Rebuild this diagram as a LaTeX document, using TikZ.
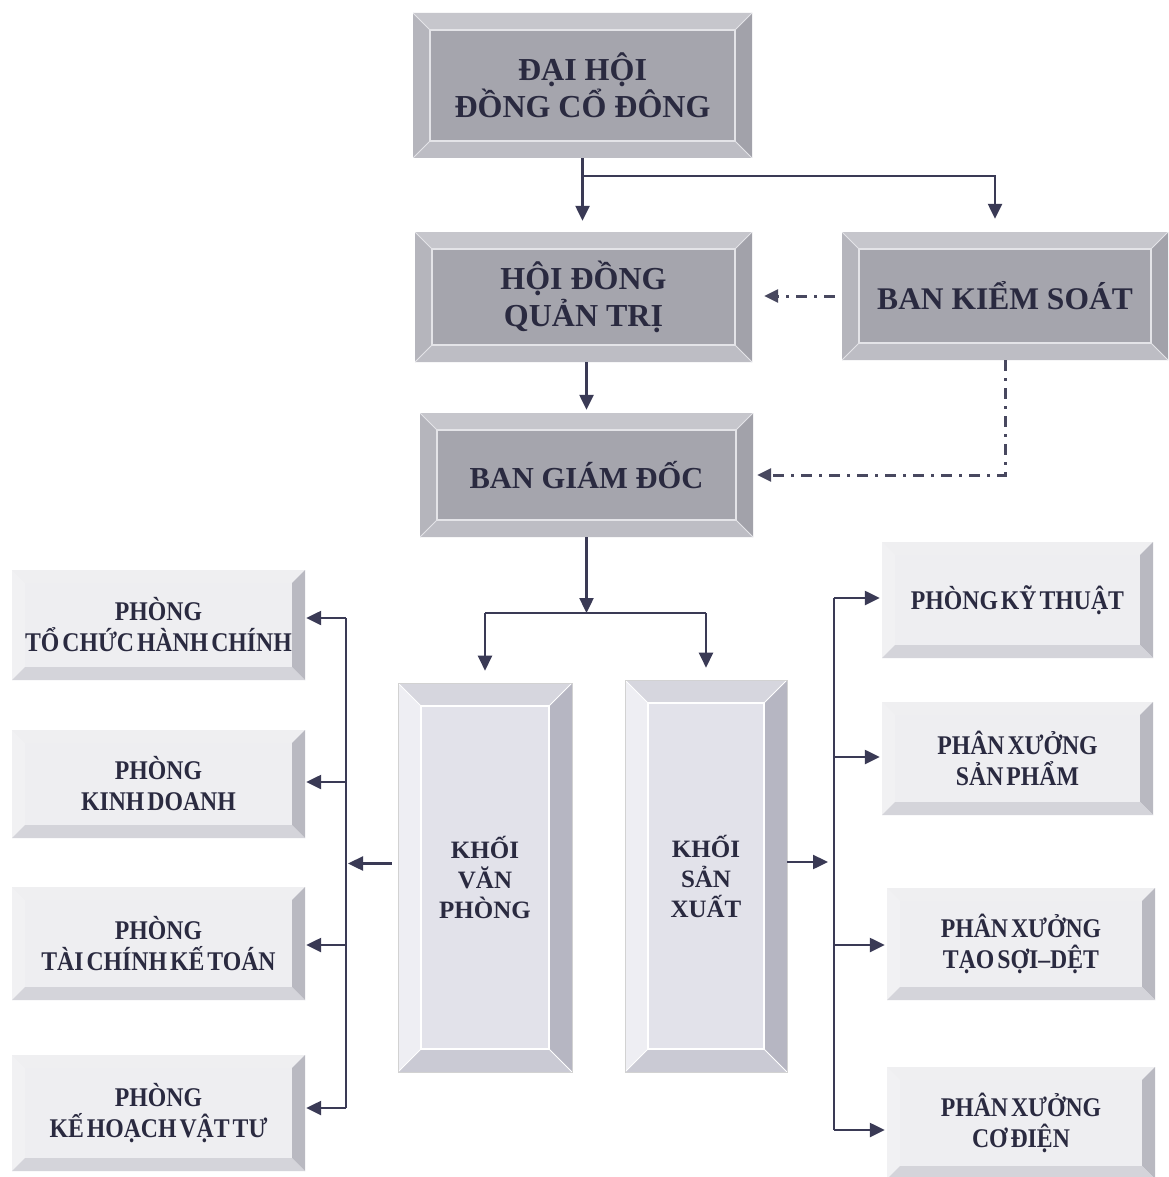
\documentclass[tikz,border=0pt]{standalone}
\usepackage{fontspec}
\setmainfont{Liberation Serif}
\newfontfamily\sidefont[FakeStretch=0.88,WordSpace=0.5]{Liberation Serif}
\usetikzlibrary{arrows.meta}
\definecolor{txtc}{HTML}{2A2A40}
\definecolor{linec}{HTML}{3A3A55}
\definecolor{dashc}{HTML}{48485F}
\definecolor{tFace}{HTML}{A5A5AD}
\definecolor{tTop}{HTML}{C6C6CC}
\definecolor{tLeft}{HTML}{B5B5BC}
\definecolor{tRight}{HTML}{A2A2AA}
\definecolor{tBot}{HTML}{BDBDC4}
\definecolor{tLine}{HTML}{E4E4E8}
\definecolor{bFace}{HTML}{E2E2EA}
\definecolor{bTop}{HTML}{D6D6DE}
\definecolor{bLeft}{HTML}{EEEEF3}
\definecolor{bRight}{HTML}{B6B6C2}
\definecolor{bBot}{HTML}{CACAD4}
\definecolor{sFace}{HTML}{EEEEF1}
\definecolor{sTop}{HTML}{EFEFF1}
\definecolor{sLeft}{HTML}{F1F1F3}
\definecolor{sRight}{HTML}{B9B9C1}
\definecolor{sBot}{HTML}{D4D4DA}
\tikzset{
  bevel/.style n args={7}{fill=#2, path picture={
    \path (path picture bounding box.north west) coordinate (bvnw)
          (path picture bounding box.north east) coordinate (bvne)
          (path picture bounding box.south west) coordinate (bvsw)
          (path picture bounding box.south east) coordinate (bvse);
    \path ([xshift=#1,yshift=-#1]bvnw) coordinate (bvinw)
          ([xshift=-#1,yshift=-#1]bvne) coordinate (bvine)
          ([xshift=#1,yshift=#1]bvsw) coordinate (bvisw)
          ([xshift=-#1,yshift=#1]bvse) coordinate (bvise);
    \fill[#3] (bvnw) -- (bvne) -- (bvine) -- (bvinw) -- cycle;
    \fill[#4] (bvnw) -- (bvinw) -- (bvisw) -- (bvsw) -- cycle;
    \fill[#5] (bvne) -- (bvse) -- (bvise) -- (bvine) -- cycle;
    \fill[#6] (bvsw) -- (bvisw) -- (bvise) -- (bvse) -- cycle;
    \path[draw=#7, line width=1.3pt] (bvinw) rectangle (bvise);
    \path[draw=#7, line width=0.8pt] (bvnw) -- (bvinw) (bvne) -- (bvine) (bvsw) -- (bvisw) (bvse) -- (bvise);
  }},
  topbox/.style={bevel={17pt}{tFace}{tTop}{tLeft}{tRight}{tBot}{tLine}, text=txtc, align=center,
    font=\bfseries\fontsize{32}{37}\selectfont, inner sep=0pt},
  blockbox/.style={bevel={23pt}{bFace}{bTop}{bLeft}{bRight}{bBot}{white}, draw=gray!35, line width=0.6pt,
    text=txtc, align=center, font=\bfseries\fontsize{25}{30}\selectfont, inner sep=0pt},
  sidebox/.style={bevel={13pt}{sFace}{sTop}{sLeft}{sRight}{sBot}{none}, text=txtc, align=center,
    font=\sidefont\bfseries\fontsize{27}{31}\selectfont, inner sep=0pt,
    minimum width=271pt, minimum height=112pt},
  conn/.style={draw=linec, line width=2.4pt, -{Triangle[length=15pt,width=14pt]}},
  busline/.style={draw=linec, line width=2.4pt},
  dashdot/.style={draw=dashc, line width=3pt, dash pattern=on 11pt off 7pt on 3pt off 7pt,
    -{Triangle[length=14pt,width=13pt]}},
}
\begin{document}
\begin{tikzpicture}[x=1pt,y=-1pt]
\fill[white] (0,0) rectangle (1168,1177);
\useasboundingbox (0,0) rectangle (1168,1177);

% top hierarchy
\node[topbox, minimum width=339pt, minimum height=145pt] (n1) at (582.5,85.5) {ĐẠI HỘI\\ĐỒNG CỔ ĐÔNG};
\node[topbox, minimum width=337pt, minimum height=130pt] (n2) at (583.5,297) {HỘI ĐỒNG\\QUẢN TRỊ};
\node[topbox, minimum width=326pt, minimum height=128pt, font=\bfseries\fontsize{31.5}{37}\selectfont] (n3) at (1005,296) {BAN KIỂM SOÁT};
\node[topbox, minimum width=333pt, minimum height=124pt, font=\bfseries\fontsize{30.5}{37}\selectfont] (n4) at (586.5,475) {BAN GIÁM ĐỐC};

% blocks
\node[blockbox, minimum width=174pt, minimum height=389pt] (n5) at (485,877.5) {KHỐI\\VĂN\\PHÒNG};
\node[blockbox, minimum width=162pt, minimum height=392pt] (n6) at (706,876) {KHỐI\\SẢN\\XUẤT};

% left departments
\node[sidebox, minimum width=293pt, minimum height=110pt] (L1) at (158.5,625) {PHÒNG\\TỔ CHỨC HÀNH CHÍNH};
\node[sidebox, minimum width=293pt, minimum height=108pt] (L2) at (158.5,784) {PHÒNG\\KINH DOANH};
\node[sidebox, minimum width=293pt, minimum height=113pt] (L3) at (158.5,943.5) {PHÒNG\\TÀI CHÍNH KẾ TOÁN};
\node[sidebox, minimum width=293pt, minimum height=116pt] (L4) at (158.5,1113) {PHÒNG\\KẾ HOẠCH VẬT TƯ};

% right departments
\node[sidebox, minimum height=116pt] (R1) at (1017.5,600) {PHÒNG KỸ THUẬT};
\node[sidebox, minimum height=113pt] (R2) at (1017.5,758.5) {PHÂN XƯỞNG\\SẢN PHẨM};
\node[sidebox, minimum width=268pt] (R3) at (1021,944) {PHÂN XƯỞNG\\TẠO SỢI–DỆT};
\node[sidebox, minimum width=268pt] (R4) at (1021,1123) {PHÂN XƯỞNG\\CƠ ĐIỆN};

% connectors top
\coordinate (j1) at (582.5,176);
\draw[conn, shorten >=11pt] (n1.south) -- (n1.south |- n2.north);
\draw[conn, shorten >=13pt] (j1) -| ([xshift=-10pt]n3.north);
\draw[dashdot, shorten <=7pt, shorten >=12pt] (n3.west) -- (n3.west -| n2.east);
\draw[conn, shorten >=3pt] (n4.north |- n2.south) -- (n4.north);
\draw[dashdot, shorten >=4pt] (n3.south) |- (n4.east);

% bus to blocks
\coordinate (b) at (590,613);
\draw[conn] (n4.south) -- (n4.south |- b);
\draw[busline] (n5.north |- b) -- (n6.north |- b);
\draw[conn, shorten >=12pt] (n5.north |- b) -- (n5.north);
\draw[conn, shorten >=12pt] (n6.north |- b) -- (n6.north);

% left bus
\coordinate (lt) at (346,618);
\coordinate (l2) at (346,782);
\coordinate (l3) at (346,945);
\coordinate (lb) at (346,1108);
\draw[busline] (lt) -- (lb);
\draw[conn, shorten >=1pt] (lt) -- (lt -| L1.east);
\draw[conn, shorten >=1pt] (l2) -- (l2 -| L2.east);
\draw[conn, shorten >=1pt] (l3) -- (l3 -| L3.east);
\draw[conn, shorten >=1pt] (lb) -- (lb -| L4.east);
\draw[conn, shorten <=6pt, shorten >=2pt] ([yshift=14pt]n5.west) -- ([yshift=14pt]n5.west -| lt);

% right bus
\coordinate (rt) at (834,598);
\coordinate (r2) at (834,757);
\coordinate (r3) at (834,945);
\coordinate (rb) at (834,1130);
\draw[busline] (rt) -- (rb);
\draw[conn, shorten >=2pt] (rt) -- (rt -| R1.west);
\draw[conn, shorten >=2pt] (r2) -- (r2 -| R2.west);
\draw[conn, shorten >=2pt] (r3) -- (r3 -| R3.west);
\draw[conn, shorten >=2pt] (rb) -- (rb -| R4.west);
\draw[conn, shorten >=6pt] ([yshift=14pt]n6.east) -- ([yshift=14pt]n6.east -| rt);
\end{tikzpicture}
\end{document}
